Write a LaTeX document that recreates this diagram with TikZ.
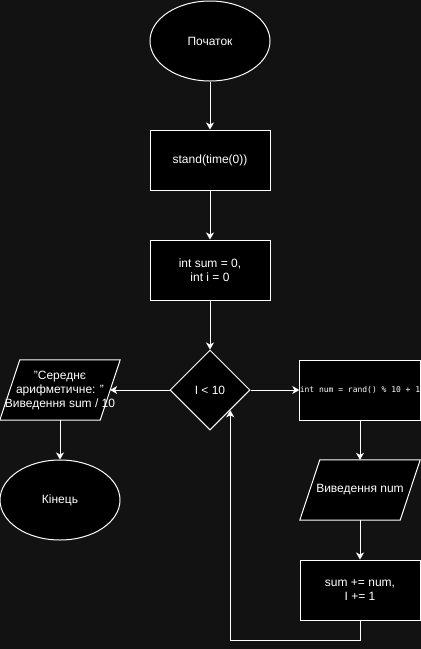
\documentclass[tikz,border=0pt]{standalone}
\usepackage{fontspec}
\setmainfont{Liberation Sans}
\newfontfamily\codefont{DejaVu Sans Mono}
\usetikzlibrary{shapes.geometric,arrows.meta}
\definecolor{bg}{RGB}{18,18,18}
\begin{document}
\begin{tikzpicture}[x=1pt,y=-1pt,
  every node/.style={text=white,font=\fontsize{12}{14}\selectfont,align=center,inner sep=0pt},
  shp/.style={draw=white,fill=black,line width=1pt},
  term/.style={shp,ellipse,minimum width=120pt,minimum height=80pt},
  proc/.style={shp,rectangle,minimum width=120pt,minimum height=60pt},
  dec/.style={shp,diamond,minimum width=80pt,minimum height=80pt,aspect=1},
  io/.style={rectangle,minimum width=100pt,minimum height=60pt},
  arr/.style={draw=white,line width=1pt,-{Stealth[length=7pt,width=8pt,inset=2pt]}}]
\fill[bg] (0,0) rectangle (421,649);
\useasboundingbox (0,0) rectangle (421,649);

\node[term] (start) at (210,41) {Початок};
\node[proc] (srand) at (210,160) {stand(time(0))};
\node[proc] (init) at (210,270) {int sum = 0,\\int i = 0};
\node[dec] (cond) at (210,390) {I < 10};

% output average
\node[io] (avg) at (60,390) {};
\draw[shp] ([xshift=10]avg.north west) -- ([xshift=10]avg.north east) -- ([xshift=-10]avg.south east) -- ([xshift=-10]avg.south west) -- cycle;
\node at (avg.center) {"Середнє\\арифметичне: "\\Виведення sum / 10};
\node[term] (end) at (60,500) {Кінець};

% loop body
\node[proc] (rnd) at (360,390) {\codefont\fontsize{8}{10}\selectfont int num = rand() \% 10 + 1};
\node[io] (outnum) at (360,490) {};
\draw[shp] ([xshift=10]outnum.north west) -- ([xshift=10]outnum.north east) -- ([xshift=-10]outnum.south east) -- ([xshift=-10]outnum.south west) -- cycle;
\node at (outnum.center) {Виведення num};
\node[proc] (upd) at (360,590) {sum += num,\\I += 1};

\draw[arr] (start) -- (srand);
\draw[arr] (srand) -- (init);
\draw[arr] (init) -- (cond);
\draw[arr] (cond.west) -- (avg.east);
\draw[arr] (avg.south) -- (end.north);
\draw[arr] (cond.east) -- (rnd.west);
\draw[arr] (rnd.south) -- (outnum.north);
\draw[arr] (outnum.south) -- (upd.north);
\draw[arr] (upd.south) -- ++(0,20) -| (cond.south east);
\end{tikzpicture}
\end{document}
